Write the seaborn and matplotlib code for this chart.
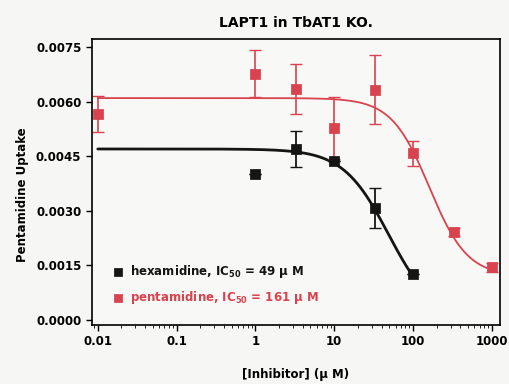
import numpy as np
import pandas as pd
import seaborn as sns
import matplotlib.pyplot as plt

# data
pent_x = [0.01, 1, 3.3, 10, 33, 100, 330, 1000]
pent_y = [0.00567, 0.00677, 0.00635, 0.00527, 0.00633, 0.00458, 0.00242, 0.00145]
pent_err = [0.00050, 0.00065, 0.00070, 0.00085, 0.00095, 0.00035, 0.00010, 0.00012]

hexa_x = [1, 3.3, 10, 33, 100]
hexa_y = [0.00402, 0.00470, 0.00437, 0.00308, 0.00125]
hexa_err = [0.0, 0.00050, 0.0, 0.00055, 0.0]

# fitted sigmoid parameters
pent_top, pent_bottom, pent_ic50, pent_hill = 0.0061, 0.0012, 161, 1.8
hexa_top, hexa_bottom, hexa_ic50, hexa_hill = 0.0047, 0.0, 49, 1.5

red = "#d9434f"
black = "#151515"

sns.set_style("ticks")
plt.rcParams["font.family"] = ["DejaVu Sans"]
plt.rcParams["font.weight"] = "bold"
plt.rcParams["mathtext.fontset"] = "dejavusans"
plt.rcParams["mathtext.default"] = "bf"
for k in ["text.color", "axes.labelcolor", "xtick.color", "ytick.color", "axes.edgecolor"]:
    plt.rcParams[k] = "black"

fig = plt.figure(figsize=(5.1, 3.84), dpi=100, facecolor="#f6f6f4")
ax = fig.add_axes([0.180, 0.154, 0.800, 0.744])
ax.set_facecolor("#f8f8f6")


def sigmoid(x, top, bottom, ic50, hill):
    return bottom + (top - bottom) / (1 + (x / ic50) ** hill)


xs_p = np.logspace(-2, 3, 300)
xs_h = np.logspace(-2, 2, 300)
curve_p = pd.DataFrame({"x": xs_p, "y": sigmoid(xs_p, pent_top, pent_bottom, pent_ic50, pent_hill)})
curve_h = pd.DataFrame({"x": xs_h, "y": sigmoid(xs_h, hexa_top, hexa_bottom, hexa_ic50, hexa_hill)})

sns.lineplot(data=curve_p, x="x", y="y", color=red, lw=1.3, ax=ax)
sns.lineplot(data=curve_h, x="x", y="y", color=black, lw=2.0, ax=ax)

ax.errorbar(pent_x, pent_y, yerr=pent_err, fmt="none", ecolor=red, elinewidth=1.2, capsize=4)
ax.errorbar(hexa_x, hexa_y, yerr=hexa_err, fmt="none", ecolor=black, elinewidth=1.3, capsize=4)

pent_df = pd.DataFrame({"x": pent_x, "y": pent_y})
hexa_df = pd.DataFrame({"x": hexa_x, "y": hexa_y})
sns.scatterplot(data=pent_df, x="x", y="y", marker="s", s=45, color=red, edgecolor=red, ax=ax, zorder=5,
                label="pentamidine, IC$_{50}$ = 161 \u00b5 M")
sns.scatterplot(data=hexa_df, x="x", y="y", marker="s", s=45, color=black, edgecolor=black, ax=ax, zorder=5,
                label="hexamidine, IC$_{50}$ = 49 \u00b5 M")

ax.set_xscale("log")
ax.set_xlim(0.0084, 1263)
ax.set_ylim(-0.000137, 0.00772)
ax.set_xticks([0.01, 0.1, 1, 10, 100, 1000])
ax.set_xticklabels(["0.01", "0.1", "1", "10", "100", "1000"])
ax.set_yticks([0.0, 0.0015, 0.0030, 0.0045, 0.0060, 0.0075])
ax.set_yticklabels(["0.0000", "0.0015", "0.0030", "0.0045", "0.0060", "0.0075"])
ax.tick_params(labelsize=8.5, width=1, length=4)
ax.tick_params(axis="x", which="minor", length=2.5)
for s in ax.spines.values():
    s.set_linewidth(1.2)
    s.set_visible(True)

ax.set_title("LAPT1 in TbAT1 KO.", fontsize=10, fontweight="bold", pad=9)
ax.set_xlabel("[Inhibitor] (\u00b5 M)", fontsize=8.5, fontweight="bold", labelpad=14)
ax.set_ylabel("Pentamidine Uptake", fontsize=8.5, fontweight="bold")
ax.yaxis.set_label_coords(-0.155, 0.455)

handles, labels = ax.get_legend_handles_labels()
leg = ax.legend(handles[::-1], labels[::-1], loc="lower left", bbox_to_anchor=(0.01, 0.03),
                frameon=False, fontsize=8.5, handletextpad=0.0, markerscale=0.8, labelspacing=0.75)
for txt, col in zip(leg.get_texts(), [black, red]):
    txt.set_color(col)
    txt.set_fontweight("bold")

fig.savefig("out.png", dpi=100, facecolor=fig.get_facecolor())
